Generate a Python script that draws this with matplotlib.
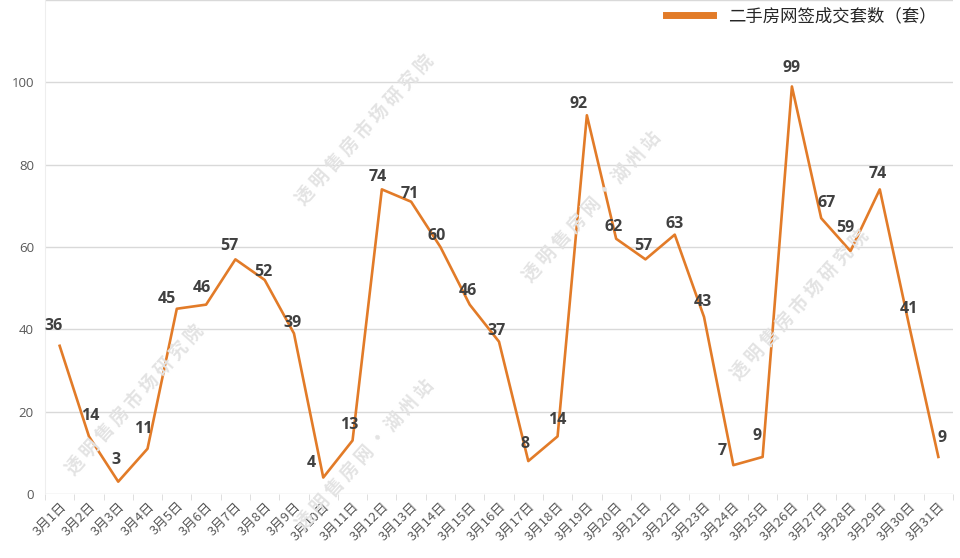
import matplotlib
matplotlib.use("Agg")
from matplotlib import pyplot as plt
import numpy as np

plt.rcParams['font.family'] = ['Noto Sans CJK SC', 'DejaVu Sans']

# data
days = ['3月%d日' % d for d in range(1, 32)]
sales = [36, 14, 3, 11, 45, 46, 57, 52, 39, 4, 13, 74, 71, 60, 46, 37, 8, 14,
         92, 62, 57, 63, 43, 7, 9, 99, 67, 59, 74, 41, 9]
series_name = '二手房网签成交套数（套）'

# label offsets in pixels (label centre relative to point)
offs = [(-6, 20), (1, 20), (-2, 22), (-4, 20), (-10, 10), (-4, 17), (-6, 13),
        (-1, 8), (-1, 10), (-12, 15), (-3, 15), (-4, 12), (-1, 8), (-4, 11),
        (-2, 14), (-2, 11), (-3, 17), (0, 16), (-8, 11), (-3, 12), (-2, 13),
        (0, 11), (-1, 15), (-11, 14), (-6, 21), (0, 18), (5, 15), (-5, 23),
        (-2, 15), (0, 16), (4, 19)]

orange = '#E27B28'
grid_c = '#D9D9D9'

fig = plt.figure(figsize=(9.6, 5.58), dpi=100)
ax = fig.add_axes([45/960, 1-494/558, 908/960, 494/558])

# watermark
wm1 = '透 明 售 房 网 · 湖 州 站'
wm2 = '透 明 售 房 市 场 研 究 院'
marks = [(wm2, 135, 400), (wm1, 365, 455), (wm1, 592, 207), (wm2, 800, 305),
         (wm2, 365, 130)]
for s, px, py in marks:
    fig.text(px/960, 1-py/558, s, rotation=48, fontsize=13, color='#E3E3E3',
             ha='center', va='center', rotation_mode='anchor', zorder=0,
             fontweight='bold')

x = np.arange(len(days))
ax.plot(x, sales, color=orange, lw=1.9, label=series_name, zorder=3)
for i, v in enumerate(sales):
    ax.annotate(str(v), (x[i], v), xytext=offs[i], textcoords='offset pixels',
                ha='center', va='center', fontsize=11.5, fontweight='bold',
                family=['Open Sans', 'DejaVu Sans'],
                color='#404040', zorder=4)

ax.set_xlim(-0.5, len(days) - 0.5)
ax.set_ylim(0, 120)
ax.set_yticks([0, 20, 40, 60, 80, 100, 120])
ax.set_yticklabels(['0', '20', '40', '60', '80', '100', ''],
                   family=['Open Sans', 'DejaVu Sans'])
ax.set_xticks(x)
ax.set_xticklabels(days, rotation=45, ha='right', rotation_mode='anchor')
ax.set_xticks(np.arange(len(days) + 1) - 0.5, minor=True)
ax.tick_params(axis='x', which='major', length=0, labelsize=9.5, colors='#595959', pad=4)
ax.tick_params(axis='x', which='minor', length=4, color=grid_c)
ax.tick_params(axis='y', length=0, labelsize=9.5, colors='#595959', pad=8)
ax.grid(axis='y', color=grid_c, lw=1)
ax.set_axisbelow(True)
for sp in ['top', 'right', 'bottom']:
    ax.spines[sp].set_visible(False)
ax.spines['left'].set_color('#EEEEEE')
ax.patch.set_alpha(0)

ax.legend(loc='upper right', bbox_to_anchor=(0.99, 1.0), frameon=False,
          prop={'size': 12.5}, handlelength=2.7, handleheight=0.5,
          labelcolor='#262626', borderaxespad=0.0, handletextpad=0.9)
leg = ax.get_legend()
leg.get_lines()[0].set_linewidth(5)

fig.savefig('out.png', dpi=100)
